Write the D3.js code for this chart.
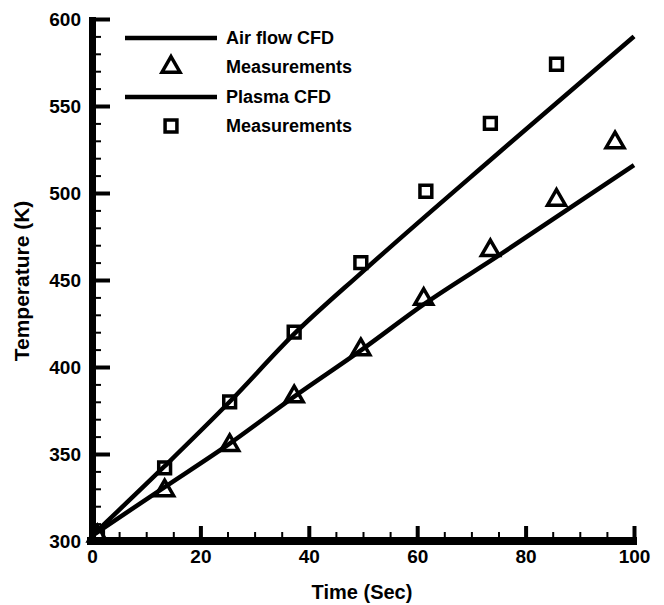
<!DOCTYPE html>
<html>
<head>
<meta charset="utf-8">
<script src="https://cdn.jsdelivr.net/npm/d3@7"></script>
<style>
  body { margin: 0; background: #fff; }
  svg { display: block; }
  text { font-family: "Liberation Sans", Arial, sans-serif; font-weight: bold; fill: #000; }
</style>
</head>
<body>
<div class="js-chart"></div>
<script>
// CFD curves (time in s, temperature in K)
var airCfdTime = [0, 13.4, 25.4, 37.3, 49.8, 61.2, 75, 100];
var airCfdTemp = [303, 331, 356, 383, 410, 436, 464, 516];
var plasmaCfdTime = [0, 13.4, 25.4, 37.3, 50, 75, 100];
var plasmaCfdTemp = [303, 343, 380, 419, 455, 523, 590];

// measurements
var airMeasTime = [1, 13.4, 25.4, 37.3, 49.6, 61.2, 73.5, 85.7, 96.5];
var airMeasTemp = [303, 329, 355, 383, 410, 439, 467, 496, 529];
var plasmaMeasTime = [1, 13.4, 25.4, 37.3, 49.6, 61.6, 73.5, 85.7];
var plasmaMeasTemp = [303, 342, 380, 420, 460, 501, 540, 574];

var xTicks = [0, 20, 40, 60, 80, 100];
var yTicks = [300, 350, 400, 450, 500, 550, 600];

var legendLabels = ["Air flow CFD", "Measurements", "Plasma CFD", "Measurements"];

function zip(xs, ys) {
  return xs.map(function(x, i) { return [x, ys[i]]; });
}

var svg = d3.select(".js-chart").append("svg")
  .attr("width", 664)
  .attr("height", 605);

var x = d3.scaleLinear().domain([0, 100]).range([92, 634]);
var y = d3.scaleLinear().domain([300, 600]).range([541, 19]);

// thick axis lines
svg.append("rect")
  .attr("x", x(0) - 3).attr("width", 7)
  .attr("y", y(600) - 2).attr("height", y(300) - y(600) + 6)
  .style("fill", "#000");
svg.append("rect")
  .attr("x", x(0) - 5).attr("width", x(100) - x(0) + 8)
  .attr("y", y(300) - 4).attr("height", 8)
  .style("fill", "#000");

// minor ticks
var yMinor = svg.append("g")
  .attr("transform", "translate(" + x(0) + ",0)")
  .call(d3.axisLeft(y).tickValues(d3.range(300, 601, 10)).tickSize(-9).tickFormat(""));
yMinor.select(".domain").remove();
yMinor.selectAll("line").style("stroke", "#000").style("stroke-width", "2px");

var xMinor = svg.append("g")
  .attr("transform", "translate(0," + y(300) + ")")
  .call(d3.axisBottom(x).tickValues(d3.range(0, 101, 5)).tickSize(-9).tickFormat(""));
xMinor.select(".domain").remove();
xMinor.selectAll("line").style("stroke", "#000").style("stroke-width", "2px");

// major ticks + labels
var yAxis = svg.append("g")
  .attr("transform", "translate(" + x(0) + ",0)")
  .call(d3.axisLeft(y).tickValues(yTicks).tickSize(-18).tickPadding(11));
yAxis.select(".domain").remove();
yAxis.selectAll("line").style("stroke", "#000").style("stroke-width", "4px");
yAxis.selectAll("text")
  .attr("font-family", null)
  .style("font-size", "19px").style("font-weight", "bold");

var xAxis = svg.append("g")
  .attr("transform", "translate(0," + y(300) + ")")
  .call(d3.axisBottom(x).tickValues(xTicks).tickSize(-15).tickPadding(9));
xAxis.select(".domain").remove();
xAxis.selectAll("line").style("stroke", "#000").style("stroke-width", "4px");
xAxis.selectAll("text")
  .attr("font-family", null)
  .style("font-size", "19px").style("font-weight", "bold");

// axis titles
svg.append("text")
  .attr("x", 362)
  .attr("y", 599)
  .attr("text-anchor", "middle")
  .style("font-size", "20px")
  .text("Time (Sec)");

svg.append("text")
  .attr("transform", "translate(29,281) rotate(-90)")
  .attr("text-anchor", "middle")
  .style("font-size", "21px")
  .text("Temperature (K)");

// CFD lines
var line = d3.line()
  .x(function(d) { return x(d[0]); })
  .y(function(d) { return y(d[1]); })
  .curve(d3.curveMonotoneX);

svg.append("path")
  .datum(zip(airCfdTime, airCfdTemp))
  .attr("d", line)
  .style("fill", "none").style("stroke", "#000").style("stroke-width", "4.5px");

svg.append("path")
  .datum(zip(plasmaCfdTime, plasmaCfdTemp))
  .attr("d", line)
  .style("fill", "none").style("stroke", "#000").style("stroke-width", "4.5px");

// markers
var triangle = d3.symbol().type(d3.symbolTriangle).size(140);
var square = d3.symbol().type(d3.symbolSquare).size(140);

svg.append("g").selectAll("path")
  .data(zip(airMeasTime, airMeasTemp))
  .enter().append("path")
  .attr("d", triangle)
  .attr("transform", function(d) { return "translate(" + x(d[0]) + "," + y(d[1]) + ")"; })
  .style("fill", "none").style("stroke", "#000").style("stroke-width", "3.5px");

svg.append("g").selectAll("path")
  .data(zip(plasmaMeasTime, plasmaMeasTemp))
  .enter().append("path")
  .attr("d", square)
  .attr("transform", function(d) { return "translate(" + x(d[0]) + "," + y(d[1]) + ")"; })
  .style("fill", "none").style("stroke", "#000").style("stroke-width", "3.5px");

// legend
var legendY = [38, 67, 97, 126];
var legend = svg.append("g");
legend.append("line")
  .attr("x1", 125).attr("x2", 217).attr("y1", legendY[0]).attr("y2", legendY[0])
  .style("stroke", "#000").style("stroke-width", "4.5px");
legend.append("path").attr("d", triangle)
  .attr("transform", "translate(171," + legendY[1] + ")")
  .style("fill", "none").style("stroke", "#000").style("stroke-width", "3.5px");
legend.append("line")
  .attr("x1", 125).attr("x2", 217).attr("y1", legendY[2]).attr("y2", legendY[2])
  .style("stroke", "#000").style("stroke-width", "4.5px");
legend.append("path").attr("d", square)
  .attr("transform", "translate(171," + legendY[3] + ")")
  .style("fill", "none").style("stroke", "#000").style("stroke-width", "3.5px");

legend.selectAll("text")
  .data(legendLabels)
  .enter().append("text")
  .attr("x", 226)
  .attr("y", function(d, i) { return legendY[i]; })
  .attr("dy", "0.35em")
  .style("font-size", "18px")
  .text(function(d) { return d; });
</script>
</body>
</html>
